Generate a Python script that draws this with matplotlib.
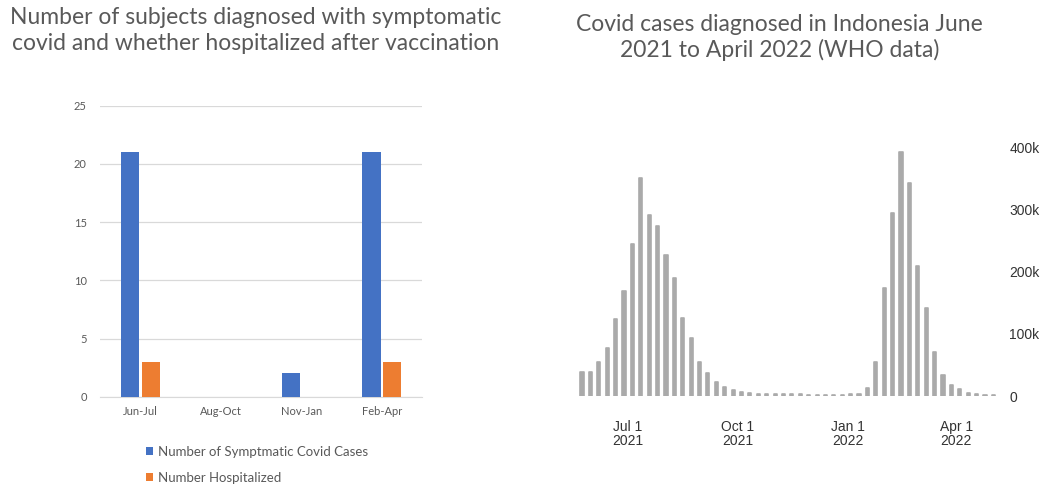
import datetime as dt
import matplotlib
matplotlib.use("Agg")
import matplotlib.pyplot as plt
import numpy as np

# left panel: symptomatic cases after vaccination, by period
periods = ["Jun-Jul", "Aug-Oct", "Nov-Jan", "Feb-Apr"]
symptomatic = [21, 0, 2, 21]
hospitalized = [3, 0, 0, 3]

# right panel: WHO weekly new cases in Indonesia (week starting Monday)
first_week = dt.date(2021, 5, 17)
weekly_cases = [
    36000, 38000, 38000, 55000, 77000, 124000, 168000, 244000, 351000,
    291000, 274000, 226000, 189000, 125000, 93000, 55000, 37000, 22000,
    14000, 10000, 6500, 5000, 4000, 3500, 3000, 2800, 2500, 2500,
    2200, 2000, 2000, 1800, 1800, 2500, 4000, 13000, 55000, 173000,
    294000, 392000, 343000, 209000, 141000, 70000, 34000, 18000, 11000,
    5000, 3000, 2000, 1500,
]
week_dates = [first_week + dt.timedelta(weeks=i) for i in range(len(weekly_cases))]

BLUE = "#4472C4"
ORANGE = "#ED7D31"
GREY_TXT = "#595959"
plt.rcParams["font.family"] = ["Lato", "DejaVu Sans"]

fig = plt.figure(figsize=(10.53, 4.84), dpi=100)

# ---- left: grouped bars, Excel look
ax1 = fig.add_axes([0.095, 0.1804, 0.3058, 0.601])
x = np.arange(len(periods))
w = 0.225
ax1.bar(x - 0.128, symptomatic, w, color=BLUE, label="Number of Symptmatic Covid Cases", zorder=3)
ax1.bar(x + 0.128, hospitalized, w, color=ORANGE, label="Number Hospitalized", zorder=3)
ax1.set_xlim(-0.5, 3.5)
ax1.set_ylim(0, 25)
ax1.set_yticks(range(0, 26, 5))
ax1.set_xticks(x)
ax1.set_xticklabels(periods)
ax1.grid(axis="y", color="#d9d9d9", linewidth=0.9, zorder=0)
for s in ["top", "right", "left"]:
    ax1.spines[s].set_visible(False)
ax1.spines["bottom"].set_color("#d9d9d9")
ax1.tick_params(length=0, labelsize=8, colors=GREY_TXT)
ax1.tick_params(axis="y", pad=9.5)
ax1.tick_params(axis="x", pad=7)
ax1.legend(loc="upper left", bbox_to_anchor=(0.126, -0.15), frameon=False, fontsize=9.5,
           handlelength=0.55, handleheight=0.55, handletextpad=0.35, labelspacing=1.1,
           labelcolor=GREY_TXT, borderaxespad=0)

fig.text(0.243, 0.985, "Number of subjects diagnosed with symptomatic\n"
         "covid and whether hospitalized after vaccination",
         ha="center", va="top", fontsize=16.5, color=GREY_TXT, linespacing=1.3)

# ---- right: weekly case bars, rounded grey columns
ax2 = fig.add_axes([0.547, 0.1818, 0.3998, 0.540])
ax2.bar(week_dates, weekly_cases, width=2.6, color="#aaaaaa", edgecolor="#aaaaaa",
        linewidth=1.2, joinstyle="round", zorder=3)
ax2.set_xlim(dt.date(2021, 5, 19), dt.date(2022, 5, 5))
ax2.set_ylim(0, 420000)
ax2.yaxis.tick_right()
ax2.set_yticks([0, 100000, 200000, 300000, 400000])
ax2.set_yticklabels(["0", "100k", "200k", "300k", "400k"])
ticks = [dt.date(2021, 7, 1), dt.date(2021, 10, 1), dt.date(2022, 1, 1), dt.date(2022, 4, 1)]
ax2.set_xticks(ticks)
ax2.set_xticklabels([d.strftime("%b 1\n%Y") for d in ticks])
for s in ax2.spines.values():
    s.set_visible(False)
ax2.tick_params(length=0, labelsize=10, colors="#333333", labelfontfamily="Liberation Sans")
ax2.tick_params(axis="y", pad=9)
ax2.tick_params(axis="x", pad=17)
for lab in ax2.get_xticklabels():
    lab.set_linespacing(1.0)

fig.text(0.74, 0.972, "Covid cases diagnosed in Indonesia June\n2021 to April 2022 (WHO data)",
         ha="center", va="top", fontsize=16.5, color=GREY_TXT, linespacing=1.25)

fig.savefig("out.png", dpi=100)
